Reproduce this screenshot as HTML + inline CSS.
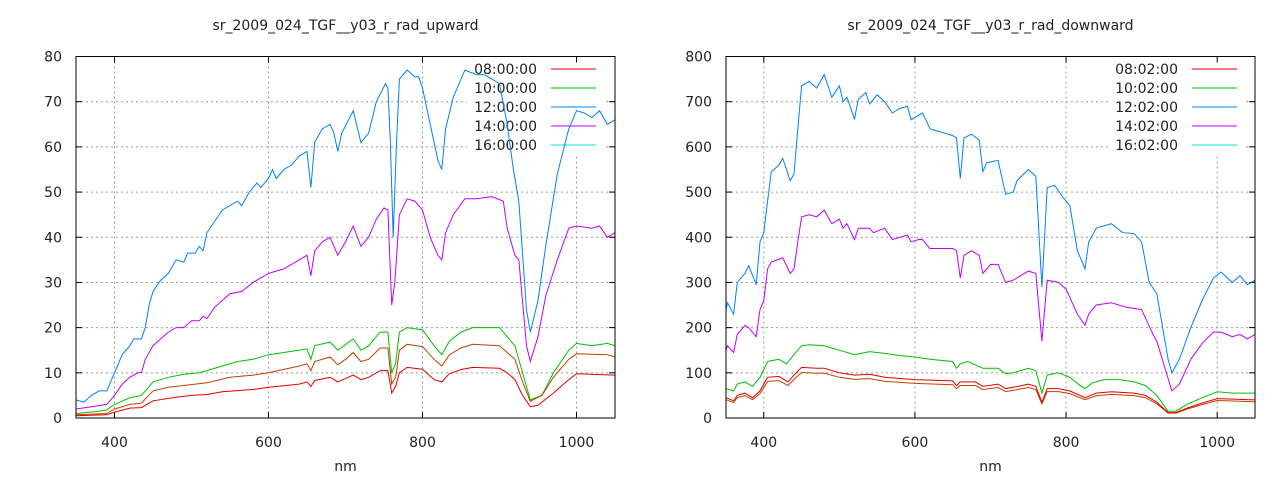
<!DOCTYPE html>
<html><head><meta charset="utf-8"><style>
body{margin:0;background:#fff;}
svg{display:block;font-family:"DejaVu Sans","Liberation Sans",sans-serif;}
</style></head><body>
<svg id="s" width="1280" height="480" xmlns="http://www.w3.org/2000/svg"></svg>
<script>
const S=document.getElementById('s');
let h='';
function plot(o){
 const X=v=>o.x0+(v-350)/700*(o.x1-o.x0), Y=v=>o.y1-(v/o.ymax)*(o.y1-o.y0);
 for(const t of [400,600,800,1000]){h+=`<line x1="${X(t)}" y1="${o.y0}" x2="${X(t)}" y2="${o.y1}" stroke="#999" stroke-dasharray="2,3"/>`;}
 for(let i=1;i<8;i++){const y=Y(i*o.ymax/8);h+=`<line x1="${o.x0}" y1="${y}" x2="${o.x1}" y2="${y}" stroke="#999" stroke-dasharray="2,3"/>`;}
 h+=`<rect x="${o.lx-70}" y="60" width="${o.x1-o.lx+60}" height="94" fill="#fff"/>`;
 for(const t of [400,600,800,1000]){
  h+=`<line x1="${X(t)}" y1="${o.y1}" x2="${X(t)}" y2="${o.y1-6}" stroke="#000"/><line x1="${X(t)}" y1="${o.y0}" x2="${X(t)}" y2="${o.y0+6}" stroke="#000"/>`;
  h+=`<text x="${X(t)}" y="${o.y1+29}" font-size="14" text-anchor="middle" fill="#222">${t}</text>`;}
 for(let i=0;i<=8;i++){const v=i*o.ymax/8,y=Y(v);
  h+=`<line x1="${o.x0}" y1="${y}" x2="${o.x0+6}" y2="${y}" stroke="#000"/><line x1="${o.x1}" y1="${y}" x2="${o.x1-6}" y2="${y}" stroke="#000"/>`;
  h+=`<text x="${o.x0-14}" y="${y+5}" font-size="14" text-anchor="end" fill="#222">${v}</text>`;}
 const lc=['#e00000','#00c000','#0080ff','#c000ff','#00e0e0'];
 o.leg.forEach((t,i)=>{const y=69+i*19;
  h+=`<text x="${o.lx}" y="${y+5}" font-size="14" text-anchor="end" fill="#222">${t}</text>`;
  h+=`<line x1="${o.lx+14}" y1="${y}" x2="${o.lx+59}" y2="${y}" stroke="${lc[i]}"/>`;});
 for(const [c,d] of o.series){
  let p=[];for(let i=0;i<d.length;i+=2)p.push(X(d[i]).toFixed(1)+','+Y(d[i+1]).toFixed(1));
  h+=`<polyline points="${p.join(' ')}" fill="none" stroke="${c}" stroke-width="1"/>`;}
 h+=`<rect x="${o.x0}" y="${o.y0}" width="${o.x1-o.x0}" height="${o.y1-o.y0}" fill="none" stroke="#000"/>`;
 h+=`<text x="${(o.x0+o.x1)/2}" y="30" font-size="14" text-anchor="middle" fill="#222">${o.title}</text>`;
 h+=`<text x="${(o.x0+o.x1)/2}" y="471" font-size="14" text-anchor="middle" fill="#222">nm</text>`;
}
const LB=[350,4,360,3.5,370,5,380,6,390,6,400,10,410,14,420,16,425,17.5,435,17.5,440,20,445,25,450,28,460,30.5,470,32,480,35,490,34.5,495,36.5,505,36.5,510,38,515,37,520,41,530,43.5,540,46,550,47,560,48,565,47,575,50,585,52,590,51,600,53,605,55,610,53,620,55,630,56,640,58,650,59,655,51,660,61,670,64,680,65,685,63,690,59,695,63,710,68,720,61,730,63,740,70,752,74,755,73,758,62,762,40,766,60,770,75,780,77,790,75.5,795,75.5,800,73,810,65,820,57,825,55,830,64,840,71,855,77,870,76,880,76,890,75,900,74,910,65,918,55,925,48,935,24,940,19,950,26,960,38,975,54,990,64,1000,68,1010,67.5,1020,66.5,1030,68,1040,65,1050,66];
const LP=[350,2,370,2.5,390,3,400,5,410,7.5,420,9,430,10,435,10,440,13,450,16,460,17.5,470,19,480,20,490,20,500,21.5,510,21.5,515,22.5,520,22,530,24.5,540,26,550,27.5,565,28,580,30,590,31,600,32,610,32.5,620,33,640,35,650,36,655,31.5,660,37,670,39,680,40,690,36,700,39,710,42.5,720,38,730,40,740,44,750,46.5,755,46,760,25,764,30,770,45,780,48.5,790,48,800,46,810,40,820,36,825,35,830,41,840,45,855,48.5,870,48.5,890,49,905,48,910,42,920,36,925,35,935,16,940,12.5,950,18,960,27,975,35,990,42,1000,42.5,1020,42,1030,42.5,1040,40,1050,41];
const LG=[350,1,380,1.5,390,1.8,400,3,420,4.5,435,5,450,8,470,9,490,9.7,510,10,520,10.5,540,11.5,560,12.5,580,13,600,14,620,14.5,650,15.3,655,13,660,16,680,16.8,690,15,710,17.5,720,15,730,16,745,19,755,19,760,10,765,12,770,19,780,20,800,19.5,815,16,825,14,835,17,850,19,865,20,900,20,910,18,920,16,930,10,940,4,955,5,970,10,990,15,1000,16.5,1020,16,1040,16.5,1050,16];
const LO=[350,0.7,390,1,400,2,420,3,435,3.3,450,6,470,6.8,490,7.2,520,7.8,550,9,580,9.5,600,10,640,11.5,650,12,655,10.5,660,12.5,680,13.5,690,11.8,700,13,710,14.5,720,12.5,730,13,745,15.5,755,15.5,760,7.5,765,9,770,15,780,16.3,800,15.8,815,13,825,11.5,835,14,850,15.5,865,16.3,900,16,910,14.5,920,13,930,8,940,3.7,955,5,970,9,990,13,1000,14.2,1040,14,1050,13.5];
const LR=[350,0.5,390,0.7,400,1.3,420,2.2,435,2.3,450,3.8,480,4.6,500,5,520,5.2,540,5.8,580,6.3,600,6.8,640,7.5,650,8,655,7,660,8.3,680,9,690,8,710,9.5,720,8.5,730,9,745,10.5,755,10.5,760,5.5,765,7,770,10,780,11.2,800,10.8,815,8.5,825,8,835,9.8,850,10.7,865,11.2,900,11,910,10,920,8.5,930,5,940,2.5,950,2.8,970,5.5,990,8.5,1000,9.8,1050,9.5];
const RB=[350,240,352,255,360,230,365,300,375,320,380,337,390,295,395,390,400,410,405,480,410,545,420,560,425,575,430,550,435,525,440,540,445,640,450,735,460,745,470,730,480,760,485,735,490,710,500,735,505,700,510,710,520,662,525,705,535,720,540,695,550,715,560,700,570,675,580,685,590,690,595,660,605,670,610,675,620,640,630,635,640,630,650,625,655,620,660,530,665,620,675,628,685,615,690,545,695,565,710,570,720,495,730,500,735,525,750,550,760,535,768,290,775,510,785,515,795,490,805,470,815,370,825,330,830,390,840,420,860,430,875,410,890,408,900,390,910,300,920,275,935,130,940,100,950,130,965,200,980,260,995,310,1005,323,1020,300,1030,315,1040,295,1050,305];
const RP=[350,150,352,160,360,145,365,185,375,205,380,200,390,180,395,240,400,260,405,330,410,345,425,355,435,320,440,330,445,390,450,445,460,450,470,445,480,460,490,430,500,440,505,420,510,430,520,395,525,420,540,420,545,410,560,420,570,395,580,400,590,405,595,390,605,395,610,395,620,375,640,375,650,375,655,370,660,310,665,360,675,370,685,360,690,320,700,340,710,340,720,300,730,305,750,325,760,320,768,170,775,305,790,300,800,285,815,230,825,205,830,230,840,250,860,255,880,245,900,240,915,185,920,170,930,115,940,60,950,75,965,130,980,165,995,190,1005,190,1020,180,1030,185,1040,175,1050,185];
const RG=[350,65,360,60,365,75,375,80,385,70,395,90,405,125,420,130,430,120,440,140,450,160,460,162,480,160,490,155,500,150,520,140,540,147,560,143,580,138,600,135,620,130,650,125,655,110,660,120,670,125,690,110,710,110,720,98,730,100,750,110,760,105,768,55,775,95,790,100,805,90,820,70,825,65,835,78,850,85,870,85,890,80,905,72,920,50,935,15,945,15,960,30,980,45,1000,58,1020,55,1040,55,1050,55];
const RR=[350,45,360,38,365,50,375,55,385,45,395,60,405,90,420,92,432,80,440,95,450,112,470,110,480,110,500,100,520,95,540,97,560,90,600,85,650,82,655,72,660,80,680,80,690,70,710,75,720,65,730,68,750,75,760,70,768,35,775,65,790,65,805,60,825,45,840,55,860,58,890,55,905,50,920,35,935,12,945,12,960,22,980,33,1000,43,1050,40];
const RO=RR.map((v,i)=>i%2?v*0.9:v);
plot({x0:76,x1:615,y0:56.5,y1:418,ymax:80,title:'sr_2009_024_TGF__y03_r_rad_upward',lx:537,
 leg:['08:00:00','10:00:00','12:00:00','14:00:00','16:00:00'],
 series:[['#0080ff',LB],['#c000ff',LP],['#00c000',LG],['#c04000',LO],['#e00000',LR]]});
plot({x0:726,x1:1255,y0:56.5,y1:418,ymax:800,title:'sr_2009_024_TGF__y03_r_rad_downward',lx:1178,
 leg:['08:02:00','10:02:00','12:02:00','14:02:00','16:02:00'],
 series:[['#0080ff',RB],['#c000ff',RP],['#00c000',RG],['#c04000',RO],['#e00000',RR]]});
S.innerHTML=h;
</script>
</body></html>
